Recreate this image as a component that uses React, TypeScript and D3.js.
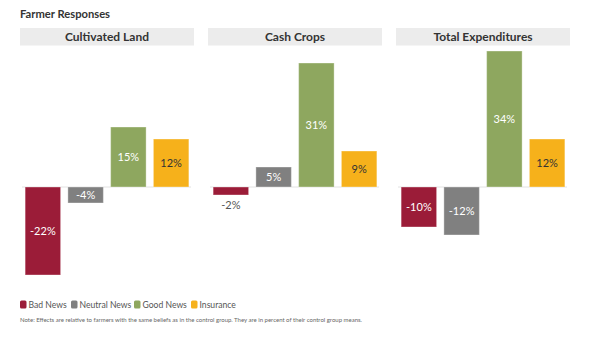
import React from "react";
import * as d3 from "d3";

const categories = ["Cultivated Land", "Cash Crops", "Total Expenditures"];
const seriesNames = ["Bad News", "Neutral News", "Good News", "Insurance"];
const badNews = [-22, -2, -10];
const neutralNews = [-4, 5, -12];
const goodNews = [15, 31, 34];
const insurance = [12, 9, 12];
const seriesValues = [badNews, neutralNews, goodNews, insurance];
const colors = ["#9b1c38", "#808080", "#8ea75f", "#f6b11b"];
const labelColors = ["#ffffff", "#ffffff", "#ffffff", "#333333"];
const title = "Farmer Responses";
const note =
  "Note: Effects are relative to farmers with the same beliefs as in the control group. They are in percent of their control group means.";

const W = 599;
const H = 343;
const FONT = "Lato, 'Noto Sans', sans-serif";

export default function App() {
  const panelX = d3
    .scaleBand<string>()
    .domain(categories)
    .range([20, 570])
    .paddingInner(14 / 188);
  const all = seriesValues.flat();
  const ext = d3.extent(all) as [number, number];
  const y = d3.scaleLinear().domain(ext).range([275, 51]);
  const y0 = y(0);
  const legendX = [20, 71, 134, 191];

  return (
    <svg
      width={W}
      height={H}
      style={{ position: "absolute", left: 0, top: 0, background: "#fff" }}
      fontFamily={FONT}
    >
      <text x={20} y={18} fontSize={11.2} fontWeight="bold" fill="#333">
        {title}
      </text>
      {categories.map((cat, ci) => {
        const px = panelX(cat)!;
        const pw = panelX.bandwidth();
        const inner = d3
          .scaleBand<string>()
          .domain(seriesNames)
          .range([px, px + pw])
          .paddingInner(0.17)
          .paddingOuter(0.12);
        return (
          <g key={cat}>
            <rect x={px} y={28} width={pw} height={17.5} fill="#ececec" />
            <text
              x={px + pw / 2}
              y={40.5}
              textAnchor="middle"
              fontSize={12}
              fontWeight="bold"
              fill="#333"
            >
              {cat}
            </text>
            <line x1={px + 2} x2={px + pw - 3} y1={y0} y2={y0} stroke="#e2e2e2" strokeWidth={1} />
            {seriesNames.map((s, si) => {
              const v = seriesValues[si][ci];
              const bx = inner(s)!;
              const bw = inner.bandwidth();
              const top = Math.min(y(v), y0);
              const h = Math.abs(y(v) - y0);
              const small = h < 12;
              const ly = small ? y(v) + 10 : top + h / 2;
              return (
                <g key={s}>
                  <rect
                    x={bx}
                    y={top}
                    width={bw}
                    height={h}
                    fill={colors[si]}
                    stroke="#ffffff"
                    strokeOpacity={0.35}
                    strokeWidth={1}
                  />
                  <text
                    x={bx + bw / 2}
                    y={ly}
                    dy="0.35em"
                    textAnchor="middle"
                    fontSize={11}
                    fill={small ? "#555" : labelColors[si]}
                  >
                    {`${v}%`}
                  </text>
                </g>
              );
            })}
          </g>
        );
      })}
      {seriesNames.map((s, si) => (
        <g key={s}>
          <rect x={legendX[si]} y={300.5} width={6.5} height={8} rx={1.5} fill={colors[si]} />
          <text x={legendX[si] + 8.5} y={308} fontSize={8.6} fill="#555">
            {s}
          </text>
        </g>
      ))}
      <text
        x={20}
        y={322}
        fontSize={6}
        fill="#666"
        textLength={342}
        lengthAdjust="spacingAndGlyphs"
      >
        {note}
      </text>
    </svg>
  );
}
